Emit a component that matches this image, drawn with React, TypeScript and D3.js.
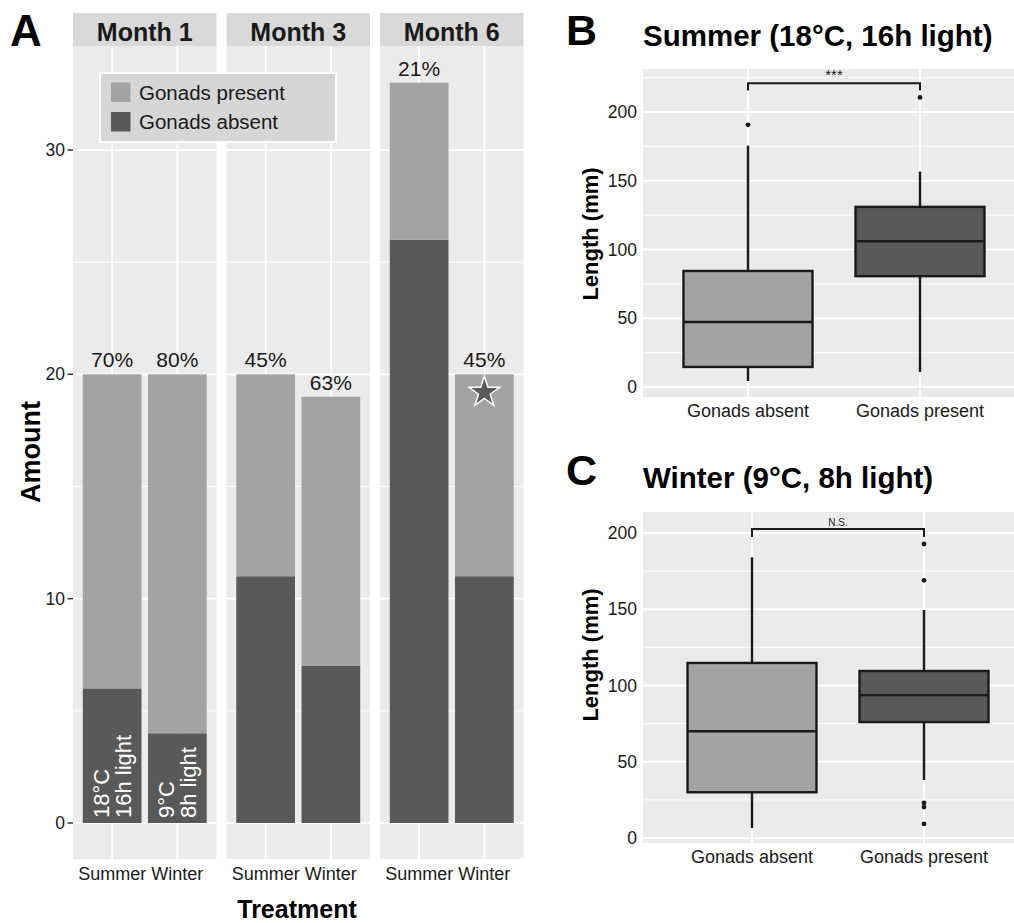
import React from "react";
import * as d3 from "d3";

const FONT = "'Liberation Sans', Arial, Helvetica, sans-serif";

// ---------- Panel A data ----------
const months = ["Month 1", "Month 3", "Month 6"];
const treatments = ["Summer", "Winter"];
const absentCounts = [
  [6, 4],
  [11, 7],
  [26, 11],
];
const presentCounts = [
  [14, 16],
  [9, 12],
  [7, 9],
];
const percentLabels = [
  ["70%", "80%"],
  ["45%", "63%"],
  ["21%", "45%"],
];
const conditionLabels = [
  ["18°C", "16h light"],
  ["9°C", "8h light"],
];
const legendLabels = ["Gonads present", "Gonads absent"];
const amountTicks = [0, 10, 20, 30];
const amountMinor = [5, 15, 25];
const starValue = 19.2; // marker in Month 6 / Winter

// ---------- Panel B / C data ----------
const groups = ["Gonads absent", "Gonads present"];
// [lower whisker, Q1, median, Q3, upper whisker]
const summerAbsent = [4.4, 14.6, 47.3, 84.4, 175.5];
const summerPresent = [11, 80.6, 106, 131, 156.6];
const summerAbsentOutliers = [190.7];
const summerPresentOutliers = [210.6];
const winterAbsent = [6.5, 30, 70, 114.8, 184];
const winterPresent = [38, 76, 93.7, 109.5, 149.5];
const winterAbsentOutliers: number[] = [];
const winterPresentOutliers = [192.8, 169, 23, 20.3, 9.2];
const lengthTicks = [0, 50, 100, 150, 200];
const summerMinor = [25, 75, 125, 175, 225];
const winterMinor = [25, 75, 125, 175];
const summerBracket = { y: 221, drop: 215.6, label: "***" };
const winterBracket = { y: 202.6, drop: 197.4, label: "N.S." };

const COL_PRESENT = "#a3a3a3";
const COL_ABSENT = "#595959";
const PANEL_BG = "#ebebeb";
const STRIP_BG = "#d9d9d9";
const INK = "#1a1a1a";

function PanelA() {
  const y = d3.scaleLinear().domain([0, 30]).range([823, 150]);
  const panelTop = 46;
  const panelBottom = 859;
  const panelLefts = [73, 226.5, 380];
  const panelW = 143.5;
  const unit = panelW / 2.2;
  const barW = unit * 0.9;
  const star = d3.symbol().type(d3.symbolStar).size(290)();

  return (
    <g>
      <text x={10} y={46} fontSize={44} fontWeight="bold" fontFamily={FONT} fill="#000">
        A
      </text>
      {months.map((m, mi) => {
        const left = panelLefts[mi];
        const x = d3
          .scalePoint<string>()
          .domain(treatments)
          .range([left + 0.6 * unit, left + 1.6 * unit]);
        return (
          <g key={m}>
            <rect x={left} y={13} width={panelW} height={panelTop - 13} fill={STRIP_BG} />
            <text
              x={left + panelW / 2}
              y={40.5}
              textAnchor="middle"
              fontSize={25}
              fontWeight="bold"
              fontFamily={FONT}
              fill={INK}
            >
              {m}
            </text>
            <rect x={left} y={panelTop} width={panelW} height={panelBottom - panelTop} fill={PANEL_BG} />
            {amountMinor.map((t) => (
              <line key={"mi" + t} x1={left} x2={left + panelW} y1={y(t)} y2={y(t)} stroke="#fff" strokeWidth={0.9} />
            ))}
            {amountTicks.map((t) => (
              <line key={"ma" + t} x1={left} x2={left + panelW} y1={y(t)} y2={y(t)} stroke="#fff" strokeWidth={1.8} />
            ))}
            {treatments.map((t) => (
              <line key={"v" + t} x1={x(t)} x2={x(t)} y1={panelTop} y2={panelBottom} stroke="#fff" strokeWidth={1.8} />
            ))}
            {treatments.map((t, ti) => {
              const cx = x(t)!;
              const a = absentCounts[mi][ti];
              const p = presentCounts[mi][ti];
              return (
                <g key={"bar" + t}>
                  <rect x={cx - barW / 2} y={y(a)} width={barW} height={y(0) - y(a)} fill={COL_ABSENT} />
                  <rect x={cx - barW / 2} y={y(a + p)} width={barW} height={y(a) - y(a + p)} fill={COL_PRESENT} />
                  <text
                    x={cx}
                    y={y(a + p) - 7}
                    textAnchor="middle"
                    fontSize={21}
                    fontFamily={FONT}
                    fill={INK}
                  >
                    {percentLabels[mi][ti]}
                  </text>
                  <text
                    x={cx}
                    y={panelBottom + 21}
                    textAnchor="middle"
                    fontSize={18}
                    fontFamily={FONT}
                    fill={INK}
                  >
                    {t}
                  </text>
                  {mi === 0 &&
                    conditionLabels[ti].map((line, li) => (
                      <text
                        key={line}
                        transform={`translate(${cx - 3 + li * 22},${y(0) - 5}) rotate(-90)`}
                        fontSize={22}
                        fontFamily={FONT}
                        fill="#fff"
                      >
                        {line}
                      </text>
                    ))}
                  {mi === 2 && ti === 1 && (
                    <path
                      d={star!}
                      transform={`translate(${cx},${y(starValue)})`}
                      fill={COL_ABSENT}
                      stroke="#fff"
                      strokeWidth={1.5}
                    />
                  )}
                </g>
              );
            })}
          </g>
        );
      })}
      {amountTicks.map((t) => (
        <g key={"yt" + t}>
          <line x1={67.5} x2={73} y1={y(t)} y2={y(t)} stroke="#333" strokeWidth={1.5} />
          <text
            x={65}
            y={y(t)}
            dy="0.35em"
            textAnchor="end"
            fontSize={17.5}
            fontFamily={FONT}
            fill={INK}
          >
            {t}
          </text>
        </g>
      ))}
      {/* legend */}
      <rect x={100} y={73} width={236} height={69} fill="#d6d6d6" stroke="#fff" strokeWidth={2} />
      {legendLabels.map((l, i) => (
        <g key={l}>
          <rect
            x={111}
            y={82.5 + i * 29.5}
            width={19.5}
            height={19.5}
            fill={i === 0 ? COL_PRESENT : COL_ABSENT}
          />
          <text x={139} y={99.5 + i * 29.5} fontSize={20.5} fontFamily={FONT} fill={INK}>
            {l}
          </text>
        </g>
      ))}
      <text
        transform={`translate(40,452) rotate(-90)`}
        textAnchor="middle"
        fontSize={27}
        fontWeight="bold"
        fontFamily={FONT}
        fill="#000"
      >
        Amount
      </text>
      <text x={297} y={918} textAnchor="middle" fontSize={25} fontWeight="bold" fontFamily={FONT} fill="#000">
        Treatment
      </text>
    </g>
  );
}

type BoxProps = {
  letter: string;
  title: string;
  letterBaseline: number;
  titleBaseline: number;
  panelTop: number;
  panelBottom: number;
  y0: number;
  y200: number;
  centers: [number, number];
  stats: number[][];
  outliers: number[][];
  minor: number[];
  bracket: { y: number; drop: number; label: string };
  bracketFont: number;
  yTitleCenter: number;
};

function BoxPanel(props: BoxProps) {
  const {
    letter,
    title,
    letterBaseline,
    titleBaseline,
    panelTop,
    panelBottom,
    y0,
    y200,
    centers,
    stats,
    outliers,
    minor,
    bracket,
    bracketFont,
    yTitleCenter,
  } = props;
  const y = d3.scaleLinear().domain([0, 200]).range([y0, y200]);
  const x = d3.scalePoint<string>().domain(groups).range(centers);
  const unit = centers[1] - centers[0];
  const boxW = unit * 0.75;
  const left = 643;
  const right = 1014;
  const fills = [COL_PRESENT, COL_ABSENT];
  const sw = 2.4;
  return (
    <g>
      <text x={566} y={letterBaseline} fontSize={43} fontWeight="bold" fontFamily={FONT} fill="#000">
        {letter}
      </text>
      <text x={643} y={titleBaseline} fontSize={29.5} fontWeight="bold" fontFamily={FONT} fill="#000">
        {title}
      </text>
      <rect x={left} y={panelTop} width={right - left} height={panelBottom - panelTop} fill={PANEL_BG} />
      {minor.map((t) => (
        <line key={"mi" + t} x1={left} x2={right} y1={y(t)} y2={y(t)} stroke="#fff" strokeWidth={0.9} />
      ))}
      {lengthTicks.map((t) => (
        <line key={"ma" + t} x1={left} x2={right} y1={y(t)} y2={y(t)} stroke="#fff" strokeWidth={1.8} />
      ))}
      {groups.map((g) => (
        <line key={"v" + g} x1={x(g)} x2={x(g)} y1={panelTop} y2={panelBottom} stroke="#fff" strokeWidth={1.8} />
      ))}
      {groups.map((g, gi) => {
        const cx = x(g)!;
        const [lo, q1, med, q3, hi] = stats[gi];
        return (
          <g key={g}>
            <line x1={cx} x2={cx} y1={y(q3)} y2={y(hi)} stroke={INK} strokeWidth={sw} />
            <line x1={cx} x2={cx} y1={y(q1)} y2={y(lo)} stroke={INK} strokeWidth={sw} />
            <rect
              x={cx - boxW / 2}
              y={y(q3)}
              width={boxW}
              height={y(q1) - y(q3)}
              fill={fills[gi]}
              stroke={INK}
              strokeWidth={sw}
            />
            <line x1={cx - boxW / 2} x2={cx + boxW / 2} y1={y(med)} y2={y(med)} stroke={INK} strokeWidth={sw} />
            {outliers[gi].map((o, oi) => (
              <circle key={oi} cx={cx} cy={y(o)} r={2.4} fill={INK} />
            ))}
            <text
              x={cx}
              y={panelBottom + 20}
              textAnchor="middle"
              fontSize={18}
              fontFamily={FONT}
              fill={INK}
            >
              {g}
            </text>
          </g>
        );
      })}
      <path
        d={`M${centers[0]},${y(bracket.drop)}V${y(bracket.y)}H${centers[1]}V${y(bracket.drop)}`}
        fill="none"
        stroke={INK}
        strokeWidth={2}
      />
      <text
        x={(centers[0] + centers[1]) / 2}
        y={y(bracket.y) - 3}
        textAnchor="middle"
        fontSize={bracketFont}
        fontFamily={FONT}
        fill={INK}
      >
        {bracket.label}
      </text>
      {lengthTicks.map((t) => (
        <text
          key={"yt" + t}
          x={637}
          y={y(t)}
          dy="0.35em"
          textAnchor="end"
          fontSize={17.5}
          fontFamily={FONT}
          fill={INK}
        >
          {t}
        </text>
      ))}
      <text
        transform={`translate(598,${yTitleCenter}) rotate(-90)`}
        textAnchor="middle"
        fontSize={22}
        fontWeight="bold"
        fontFamily={FONT}
        fill="#000"
      >
        Length (mm)
      </text>
    </g>
  );
}

export default function App() {
  return (
    <svg
      width={1014}
      height={923}
      style={{ position: "absolute", left: 0, top: 0, background: "#fff" }}
      xmlns="http://www.w3.org/2000/svg"
    >
      <rect width={1014} height={923} fill="#fff" />
      <PanelA />
      <BoxPanel
        letter="B"
        title="Summer (18°C, 16h light)"
        letterBaseline={45}
        titleBaseline={46}
        panelTop={69}
        panelBottom={397}
        y0={387}
        y200={112}
        centers={[748, 920]}
        stats={[summerAbsent, summerPresent]}
        outliers={[summerAbsentOutliers, summerPresentOutliers]}
        minor={summerMinor}
        bracket={summerBracket}
        bracketFont={15}
        yTitleCenter={234}
      />
      <BoxPanel
        letter="C"
        title="Winter (9°C, 8h light)"
        letterBaseline={485}
        titleBaseline={488}
        panelTop={512}
        panelBottom={843}
        y0={838}
        y200={533}
        centers={[752, 924]}
        stats={[winterAbsent, winterPresent]}
        outliers={[winterAbsentOutliers, winterPresentOutliers]}
        minor={winterMinor}
        bracket={winterBracket}
        bracketFont={10}
        yTitleCenter={655}
      />
    </svg>
  );
}
